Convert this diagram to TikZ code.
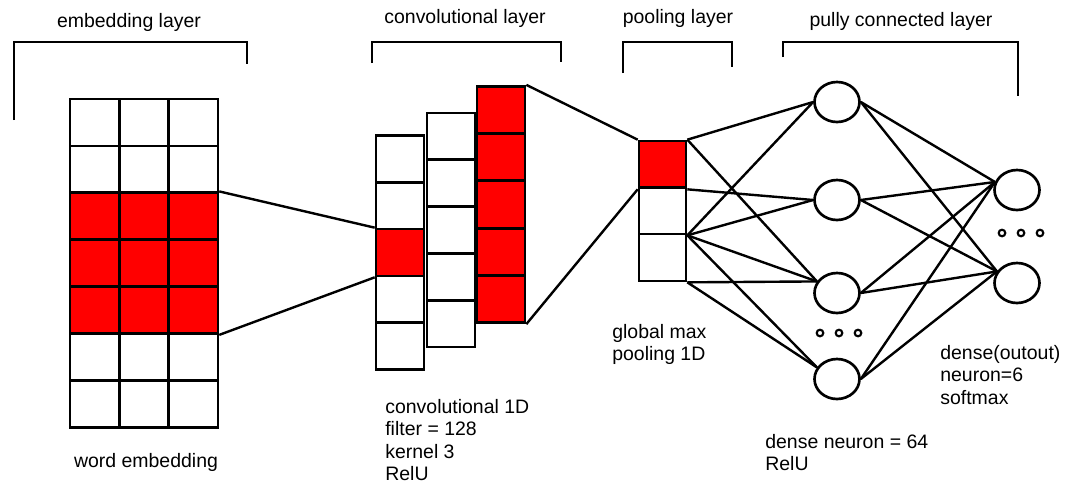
\documentclass[tikz,border=0pt]{standalone}
\usepackage{fontspec}
\setmainfont{Liberation Sans}
\usetikzlibrary{calc, shapes.geometric}

\begin{document}
\begin{tikzpicture}[x=0.75pt, y=-0.75pt, line width=2pt,
    cell/.style={draw, rectangle, inner sep=0pt, minimum width=36pt, minimum height=35.25pt},
    hot/.style={cell, fill=red},
    neuron/.style={draw, ellipse, inner sep=0pt, minimum width=33.75pt, minimum height=30pt},
    txt/.style={font=\fontsize{14.6}{16.8}\selectfont, inner sep=0pt},
    note/.style={txt, align=left, anchor=north west},
    wire/.style={line width=1.8pt}]

    \useasboundingbox (0,0) rectangle (1065,486);

    % brackets over the layers
    \draw (14,120) -- (14,42) -- (247,42) -- (247,64);
    \draw (372,63) -- (372,42) -- (561,42) -- (561,62);
    \draw (623,73) -- (623,42) -- (732,42) -- (732,67);
    \draw (783,57) -- (783,42) -- (1018,42) -- (1018,96);
    \node[txt, anchor=base] (t-emb) at (129,27) {embedding layer};
    \node[txt, anchor=base] (t-conv) at (465,23) {convolutional layer};
    \node[txt, anchor=base] (t-pool) at (678,23) {pooling layer};
    \node[txt, anchor=base] (t-fc) at (901,26) {pully connected layer};

    % word embedding matrix
    \foreach \r in {1,2,6,7}
      \foreach \c in {1,2,3}
        \node[cell, minimum width=37pt] (e-\r-\c) at ({70+49.3*(\c-0.5)},{99+46.9*(\r-0.5)}) {};
    \foreach \r in {3,4,5}
      \foreach \c in {1,2,3}
        \node[hot, minimum width=37pt] (e-\r-\c) at ({70+49.3*(\c-0.5)},{99+46.9*(\r-0.5)}) {};
    \node[txt, anchor=base] (t-word) at (146,467) {word embedding};

    % convolution filters
    \foreach \r in {1,2,4,5}
      \node[cell] (c1-\r) at (400,{136+46.6*(\r-0.5)}) {};
    \node[hot] (c1-3) at (400,{136+46.6*2.5}) {};
    \foreach \r in {1,...,5}
      \node[cell] (c2-\r) at (451,{113+46.8*(\r-0.5)}) {};
    \foreach \r in {1,...,5}
      \node[hot] (c3-\r) at (501,{86+47.4*(\r-0.5)}) {};
    \node[note] (t-conv1d) at (384,398) {convolutional 1D\\filter = 128\\kernel 3\\RelU};

    % pooling
    \node[hot, minimum width=35.25pt] (p-1) at (662.5,164.5) {};
    \node[cell, minimum width=35.25pt] (p-2) at (662.5,210.5) {};
    \node[cell, minimum width=35.25pt] (p-3) at (662.5,257.5) {};
    \node[note] (t-gmp) at (611,323) {global max\\pooling 1D};

    % dense layers
    \node[neuron] (h1) at (837,102) {};
    \node[neuron] (h2) at (837,200) {};
    \node[neuron] (h3) at (837,293) {};
    \node[neuron] (h4) at (837,379) {};
    \node[neuron] (o1) at (1017,190) {};
    \node[neuron] (o2) at (1017,283) {};
    \foreach \x in {820,839,858}
      \draw[line width=1.6pt] (\x,333) circle (3.3);
    \foreach \x in {1002,1021,1040}
      \draw[line width=1.6pt] (\x,233) circle (3.3);
    \node[note] (t-dense) at (764,433) {dense neuron = 64\\RelU};
    \node[note] (t-out) at (939,344) {dense(outout)\\neuron=6\\softmax};

    % connections
    \draw[wire] (e-3-3.north east) -- (c1-3.north west);
    \draw[wire] (e-5-3.south east) -- (c1-3.south west);
    \draw[wire] (c3-1.north east) -- (p-1.north west);
    \draw[wire] (c3-5.south east) -- (p-1.south west);
    \draw[wire] (p-1.north east) -- (h1.west);
    \draw[wire] (p-1.north east) -- (h3.150);
    \draw[wire] (p-1.south east) -- (h2.west);
    \foreach \h in {h1.west, h2.west, h3.150, h4.150}
      \draw[wire] (p-2.south east) -- (\h);
    \draw[wire] (p-3.south east) -- (h3.150);
    \draw[wire] (p-3.south east) -- (h4.150);
    \foreach \i in {1,...,4}
      \foreach \j/\a in {1/160, 2/150}
        \draw[wire] (h\i.east) -- (o\j.\a);

\end{tikzpicture}
\end{document}
